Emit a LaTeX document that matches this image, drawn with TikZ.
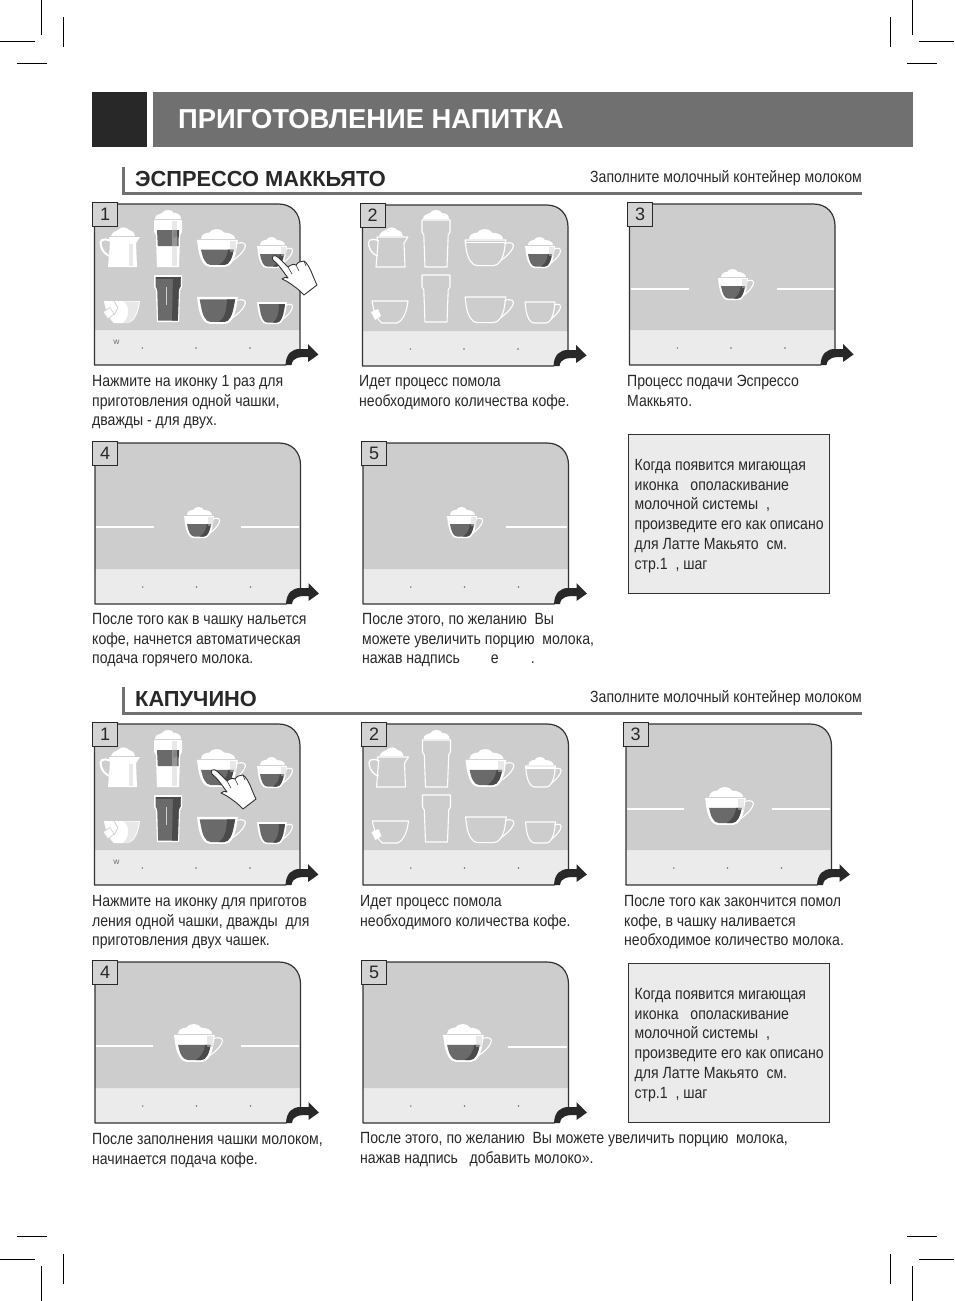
\documentclass[tikz,border=0pt]{standalone}
\usepackage{fontspec}
\setmainfont{Liberation Sans}
\newfontfamily\narrowfont[FakeStretch=0.868]{Liberation Sans}
\usetikzlibrary{positioning}
\definecolor{pgDark}{HTML}{282828}
\definecolor{pgBar}{HTML}{707070}
\definecolor{pgScreen}{HTML}{CDCDCD}
\definecolor{pgLight}{HTML}{EBEBEB}
\definecolor{pgLine}{HTML}{333333}
\definecolor{pgCoffee}{HTML}{6A6A6A}
\definecolor{pgCoffeeD}{HTML}{4A4A4A}
\newcommand{\cupbowl}{(0,9) -- (1,17) .. controls (2,24) and (5,30) .. (9,30) -- (21,30) .. controls (25,30) and (28,24) .. (29,17) -- (30,9) -- cycle}
\newcommand{\cuphandle}{(29,12) .. controls (34,10) and (37,12) .. (35,16) .. controls (33,20) and (30,23) .. (26,26)}
\newcommand{\cupfoam}{\fill[white] (3,8) .. controls (3,4) and (7,3) .. (9,3) .. controls (11,-1) and (18,-1) .. (20,3)
      .. controls (24,3) and (28,5) .. (28,8) -- cycle;}
\newcommand{\cupwhite}{\fill[white] (0,9) -- (30,9) -- (29,17) .. controls (28,24) and (25,31) .. (21,31) -- (9,31)
      .. controls (5,31) and (2,24) .. (1,17) -- cycle;}
\newcommand{\glassfoamtop}{\fill[white] (1,9) .. controls (1,5) and (5,4) .. (8,3) .. controls (10,-1) and (18,-1) .. (20,3)
      .. controls (24,3) and (27,5) .. (27,9) -- cycle;}
\newcommand{\jugfoamtop}{\fill[white] (11,9) .. controls (12,5) and (16,4) .. (18,3) .. controls (21,-1) and (27,0) .. (29,3)
      .. controls (33,4) and (35,6) .. (35,9) -- cycle;}
\newcommand{\glassbody}{(0,10) -- (0,22) -- (1.8,25) -- (3,57) -- (25,57) -- (26.2,25) -- (28,22) -- (28,10) -- cycle}
\newcommand{\jugbody}{(9,10) -- (40,10) -- (36,16) -- (37,40) -- (8,40) -- (10,16) -- cycle}
\newcommand{\jughandle}{(11,14) .. controls (2,10) and (-1,14) .. (1,19) .. controls (2,24) and (6,28) .. (10,29)}
\newcommand{\teabody}{(1,1) -- (37,1) .. controls (36,10) and (33,20) .. (26,23) -- (11,23) .. controls (7,20) and (3,14) .. (1,1) -- cycle}
\tikzset{
  screenedge/.style={draw=pgLine, line width=1.2pt, line join=round},
  numbox/.style={draw=pgDark, line width=1.4pt, fill=pgLight!90!black, minimum width=25pt, minimum height=24pt,
    inner sep=0pt, anchor=north west, font=\fontsize{18}{18}\selectfont, text=pgDark},
  caption/.style={anchor=north west, align=left, inner sep=0pt, text=pgDark,
    font=\narrowfont\fontsize{16.2}{19.8}\selectfont},
  infobox/.style={draw=pgLine, line width=0.8pt, fill=pgLight, minimum width=200.5pt, minimum height=158.5pt,
    anchor=north west, inner sep=0pt},
  heading/.style={anchor=west, inner sep=0pt, text=pgDark, font=\bfseries\fontsize{21.8}{22}\selectfont},
  filltip/.style={anchor=east, inner sep=0pt, text=pgDark, font=\narrowfont\fontsize{16.2}{19.8}\selectfont},
  rule/.style={draw=pgBar, line width=3pt},
  crop/.style={draw=black, line width=0.8pt},
  whiteline/.style={draw=white, line width=1.1pt, line join=round},
  sideline/.style={draw=white, line width=1.1pt},
  sidethick/.style={draw=white, line width=1.6pt},
  dimhi/.style={fill=pgScreen, fill opacity=0.45},
  pics/cupempty/.style={code={
    \draw[whiteline] \cupbowl;
    \draw[whiteline] \cuphandle;
  }},
  pics/cupblack/.style={code={
    \cupwhite
    \fill[pgCoffee] (2,11) -- (28,11) -- (27,17) .. controls (26,23) and (24,29.5) .. (20,29.5) -- (10,29.5) .. controls (6,29.5) and (4,23) .. (3,17) -- cycle;
    \fill[pgCoffeeD] (22,11) -- (28,11) -- (27,17) .. controls (26,23) and (24,29.5) .. (20,29.5) -- (16,29.5) .. controls (20,27) and (22,20) .. (22,11) -- cycle;
    \draw[whiteline] \cuphandle;
  }},
  pics/cupfull/.style={code={
    \cupfoam
    \cupwhite
    \fill[pgCoffee] (3,17) -- (27,17) .. controls (26,23) and (24,29.5) .. (20,29.5) -- (10,29.5) .. controls (6,29.5) and (4,23) .. (3,17) -- cycle;
    \fill[pgCoffeeD] (23,17) -- (27,17) .. controls (26,23) and (24,29.5) .. (20,29.5) -- (16,29.5) .. controls (20,27) and (22,23) .. (23,17) -- cycle;
    \fill[dimhi] (24,10) rectangle (28.5,19);
    \draw[whiteline] \cuphandle;
  }},
  pics/cupwithfoam/.style={code={
    \cupfoam
    \draw[whiteline] \cupbowl;
    \draw[whiteline] \cuphandle;
    \draw[whiteline] (0.5,11) -- (29.5,11);
  }},
  pics/glassempty/.style={code={
    \draw[whiteline] \glassbody;
  }},
  pics/glassfoam/.style={code={
    \glassfoamtop
    \draw[whiteline] \glassbody;
  }},
  pics/glasslatte/.style={code={
    \glassfoamtop
    \fill[white] \glassbody;
    \fill[pgCoffee] (3,20) -- (25,20) -- (24.5,36) -- (3.8,36) -- cycle;
    \fill[pgCoffeeD] (19,20) -- (25,20) -- (24.8,26) -- (19,28) -- cycle;
    \fill[dimhi] (18,11) rectangle (23,56);
  }},
  pics/glassblack/.style={code={
    \fill[white] \glassbody;
    \fill[pgCoffee] (1.5,12) -- (26.5,12) -- (26.5,21.5) -- (24.8,24.5) -- (23.8,55.5) -- (4.2,55.5) -- (3.2,24.5) -- (1.5,21.5) -- cycle;
    \fill[pgCoffeeD] (1.5,12) -- (26.5,12) -- (26.5,14) -- (1.5,14) -- cycle;
    \fill[pgCoffeeD] (19,12) -- (26.5,12) -- (26.5,21.5) -- (24.8,24.5) -- (23.8,55.5) -- (18,55.5) -- cycle;
    \draw[pgScreen, line width=0.5pt] (12,22) -- (12,40);
  }},
  pics/jugfull/.style={code={
    \jugfoamtop
    \fill[white] \jugbody;
    \draw[white, line width=2pt] \jughandle;
    \fill[dimhi] (29,17) rectangle (33,39);
  }},
  pics/jugempty/.style={code={
    \jugfoamtop
    \draw[whiteline] \jugbody;
    \draw[white, line width=1.3pt] \jughandle;
  }},
  pics/teafull/.style={code={
    \fill[white] \teabody;
    \fill[dimhi] (20,1.5) .. controls (26,4) and (28,16) .. (20,23) -- (26,23) .. controls (33,18) and (35,8) .. (36,1.5) -- cycle;
    \draw[pgScreen, line width=0.7pt] (11,1) -- (15,8) -- (11,15);
    \fill[white] (0,12) -- (7,7.5) -- (11,14) -- (5,19) -- cycle;
    \draw[pgScreen, line width=0.6pt] (0,12) -- (7,7.5) -- (11,14) -- (5,19) -- cycle;
  }},
  pics/teaempty/.style={code={
    \draw[whiteline] \teabody;
    \fill[white] (0,12) -- (7,9) -- (10,16) -- (4,20) -- cycle;
  }},
  pics/presshand/.style={code={
    \draw[fill=white, draw=pgLine, line width=0.9pt, line join=round]
      (0,0) .. controls (2,-1) and (4,0) .. (6,2) -- (15,11) -- (17,9.5) .. controls (19,8) and (22,8) .. (23,9)
      .. controls (25,6) and (28,5) .. (31,5) .. controls (34,7) and (36,11) .. (38,15)
      .. controls (40,20) and (42,25) .. (44,29) -- (31,39) .. controls (28,36) and (25,33) .. (22,31)
      .. controls (18,28) and (14,25) .. (9,23) .. controls (11,21) and (13,21) .. (15,22)
      .. controls (10,15) and (5,8) .. (0,4) .. controls (-1,3) and (-1,1) .. (0,0) -- cycle;
    \draw[draw=pgLine, line width=0.6pt] (15,11) -- (19,18) (23,9) -- (26,15) (31,5) -- (33,10);
  }}
}
\begin{document}
\begin{tikzpicture}[x=1pt, y=-1pt]
  \useasboundingbox (0,0) rectangle (954,1301);
  \fill[white] (0,0) rectangle (954,1301);
  % crop marks
  \draw[crop] (41.5,0) -- (41.5,35) (0,41.5) -- (35,41.5) (63.5,17) -- (63.5,47) (17,63.5) -- (47,63.5);
  \draw[crop] (912.5,0) -- (912.5,35) (919,41.5) -- (954,41.5) (890.5,17) -- (890.5,47) (907,63.5) -- (937,63.5);
  \draw[crop] (41.5,1266) -- (41.5,1301) (0,1259.5) -- (35,1259.5) (63.5,1254) -- (63.5,1284) (17,1236.5) -- (47,1236.5);
  \draw[crop] (912.5,1266) -- (912.5,1301) (919,1259.5) -- (954,1259.5) (890.5,1254) -- (890.5,1284) (907,1236.5) -- (937,1236.5);

  % title bar
  \fill[pgDark] (92,92) rectangle (147,147);
  \fill[pgBar] (153,92) rectangle (913,147);
  \node[anchor=west, inner sep=0pt, text=white, font=\bfseries\fontsize{27.4}{29}\selectfont] (title) at (178,119.5) {ПРИГОТОВЛЕНИЕ НАПИТКА};

  % section headings
  \foreach \ry/\htext [count=\i] in {193.5/ЭСПРЕССО МАККЬЯТО, 713.5/КАПУЧИНО} {
    \draw[rule] (123.5,\ry-27) -- (123.5,\ry) -- (862,\ry);
    \node[heading] (head\i) at (135,\ry-14.5) {\htext};
    \node[filltip] (tip\i) at (862,\ry-15) {Заполните молочный контейнер молоком};
  }

  % screens
  \foreach \n/\sx/\sy/\bx [count=\i] in {1/94.5/204/92, 2/362.5/205/359.5, 3/629.5/204/627, 4/95/443/92, 5/363/443/361,
      1/94.5/724/92, 2/363/724/361, 3/626/724/622.5, 4/95/962/92, 5/363/962/361} {
    \begin{scope}[shift={(\sx,\sy)}]
      \fill[pgLight] (0,0) -- (184,0) .. controls (197,0) and (205.5,9) .. (205.5,22) -- (205.5,145)
        .. controls (197,145) and (192,150) .. (191.5,161) -- (0,161) -- cycle;
      \fill[pgScreen] (0,0) -- (184,0) .. controls (197,0) and (205.5,9) .. (205.5,22) -- (205.5,126) -- (0,126) -- cycle;
      \draw[screenedge] (205.5,145) -- (205.5,22) .. controls (205.5,9) and (197,0) .. (184,0) -- (0,0) -- (0,161) -- (191.5,161);
      \fill[pgDark] (191,161) .. controls (191.5,150) and (197,145) .. (205.5,145) -- (213.5,145) -- (213.5,140)
        -- (224,150.5) -- (213.5,158) -- (213.5,153) .. controls (205,153) and (198,153) .. (197,161) -- cycle;
      \foreach \dx in {47.8,101.5,155.5}
        \fill[pgBar] (\dx,144) circle (0.8);
    \end{scope}
    \node[numbox] (num\i) at (\bx,\sy-2) {\n};
  }

  % menu screens
  \foreach \ox/\oy/\kind [count=\i] in {0/204/a, 268/204/b, 0/724/c, 268.5/724/d} {
    \begin{scope}[shift={(\ox,\oy)}]
      \if\kind b
        \pic at (100,23) {jugempty};
        \pic at (154,6) {glassfoam};
        \pic[xscale=1.36, yscale=1.22] at (197,25) {cupwithfoam};
        \pic at (257,33) {cupfull};
        \pic at (103,96) {teaempty};
        \pic at (154,61) {glassempty};
        \pic[xscale=1.36, yscale=1.22] at (197,82) {cupempty};
        \pic at (257,89) {cupempty};
      \else\if\kind d
        \pic at (100,23) {jugempty};
        \pic at (154,6) {glassfoam};
        \pic[xscale=1.36, yscale=1.22] at (197,25) {cupfull};
        \pic at (257,33) {cupwithfoam};
        \pic at (103,96) {teaempty};
        \pic at (154,61) {glassempty};
        \pic[xscale=1.36, yscale=1.22] at (197,82) {cupempty};
        \pic at (257,89) {cupempty};
      \else
        \pic at (100,23) {jugfull};
        \pic at (154,6) {glasslatte};
        \pic[xscale=1.36, yscale=1.22] at (197,25) {cupfull};
        \pic at (257,33) {cupfull};
        \pic at (103,96) {teafull};
        \pic at (154,61) {glassblack};
        \pic[xscale=1.36, yscale=1.22] at (197,82) {cupblack};
        \pic at (257,89) {cupblack};
        \node[font=\fontsize{6.5}{7}\selectfont, text=pgBar!80!black, inner sep=0pt] (wsign\i) at (116.5,138) {W};
      \fi\fi
    \end{scope}
  }
  \pic at (273,256) {presshand};
  \pic at (212,770) {presshand};

  % single cup screens
  \pic at (718,269) {cupfull};
  \draw[sidethick] (631,289) -- (689,289) (777,289) -- (834,289);
  \pic at (184,507) {cupfull};
  \draw[sideline] (96,527) -- (154,527) (241,527) -- (299,527);
  \pic at (447,507) {cupfull};
  \draw[sidethick] (506,527) -- (567,527);
  \pic[xscale=1.36, yscale=1.22] at (705,787) {cupfull};
  \draw[sideline] (627,809) -- (684,809) (772,809) -- (830,809);
  \pic[xscale=1.36, yscale=1.22] at (174,1024) {cupfull};
  \draw[sideline] (96,1046) -- (153,1046) (241,1046) -- (299,1046);
  \pic[xscale=1.36, yscale=1.22] at (443,1024) {cupfull};
  \draw[sideline] (508,1047) -- (567,1047);

  % captions
  \node[caption] (capa) at (92,375) {Нажмите на иконку 1 раз для\\приготовления одной чашки,\\дважды - для двух.};
  \node[caption] (capb) at (359,375) {Идет процесс помола\\необходимого количества кофе.};
  \node[caption] (capc) at (627,375) {Процесс подачи Эспрессо\\Маккьято.};
  \node[caption] (capd) at (92,613) {После того как в чашку нальется\\кофе, начнется автоматическая\\подача горячего молока.};
  \node[caption] (cape) at (362,613) {После этого, по желанию\ \ Вы\\можете увеличить порцию\ \ молока,\\нажав надпись\hspace{31pt}е\hspace{32pt}.};
  \node[caption] (capf) at (92,895) {Нажмите на иконку для приготов\\ления одной чашки, дважды\ \ для\\приготовления двух чашек.};
  \node[caption] (capg) at (360,895) {Идет процесс помола\\необходимого количества кофе.};
  \node[caption] (caph) at (624,895) {После того как закончится помол\\кофе, в чашку наливается\\необходимое количество молока.};
  \node[caption] (capi) at (92,1133) {После заполнения чашки молоком,\\начинается подача кофе.};
  \node[caption] (capj) at (360,1132) {После этого, по желанию\ \ Вы можете увеличить порцию\ \ молока,\\нажав надпись\ \ \ добавить молоко».};

  % rinse notes
  \foreach \ny [count=\i] in {434,963} {
    \node[infobox] (note\i) at (628,\ny) {};
    \node[caption] (notetext\i) at (634.5,\ny+25) {Когда появится мигающая\\иконка\ \ \ ополаскивание\\молочной системы\ \ ,\\произведите его как описано\\для Латте Макьято\ \ см.\\стр.1\ \ , шаг};
  }
\end{tikzpicture}
\end{document}
